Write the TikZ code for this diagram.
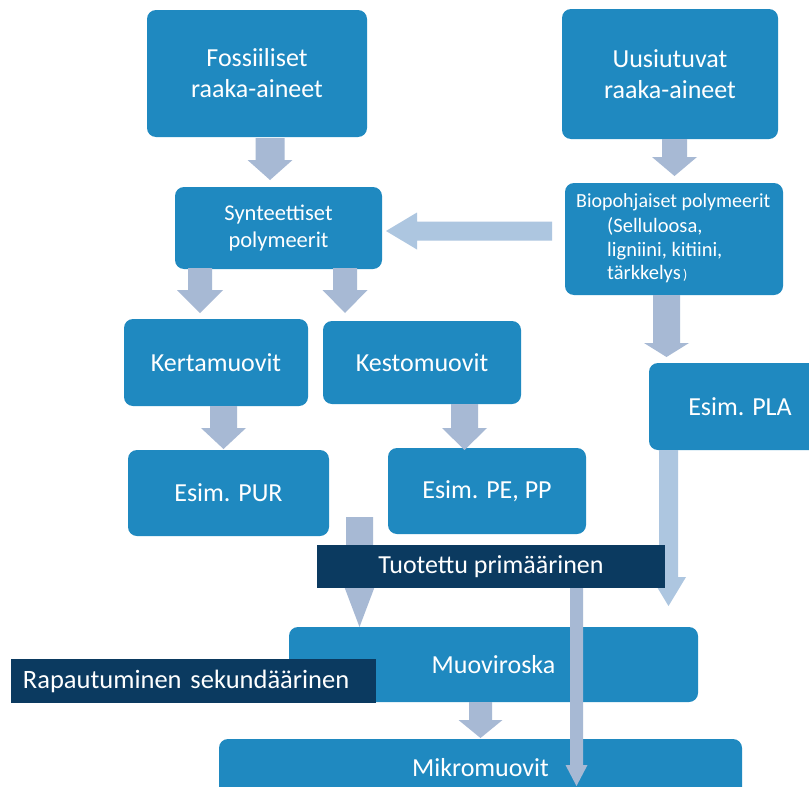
\documentclass[tikz,border=0pt]{standalone}
\usepackage{fontspec}
\setmainfont{Carlito}
\usetikzlibrary{calc}
\definecolor{boxblue}{HTML}{1F89C0}
\definecolor{arrowc}{HTML}{A7B9D4}
\definecolor{arrowl}{HTML}{ADC6E0}
\definecolor{navy}{HTML}{0B3A60}
\tikzset{
  bbox/.style={fill=boxblue, rounded corners=9pt, text=white, align=center, inner sep=0pt,
    font=\fontsize{26}{31}\selectfont},
  nbox/.style={fill=navy, text=white, inner sep=0pt, font=\fontsize{26}{31}\selectfont},
  btext/.style={text=white, inner sep=0pt},
}
% #1 colour, #2 start, #3 end (tip), #4 shaft half-width, #5 head half-width, #6 head length
\newcommand\blockarrow[6][arrowc]{%
  \coordinate (ba-h) at ($(#3)!#6!(#2)$);
  \fill[#1] ($(#2)!#4!90:(#3)$) -- ($(ba-h)!#4!90:(#3)$) -- ($(ba-h)!#5!90:(#3)$) -- (#3)
    -- ($(ba-h)!#5!-90:(#3)$) -- ($(ba-h)!#4!-90:(#3)$) -- ($(#2)!#4!-90:(#3)$) -- cycle;}
\begin{document}
\begin{tikzpicture}[x=1pt,y=-1pt]
\useasboundingbox (0,0) rectangle (809,787);
\fill[white] (0,0) rectangle (809,787);

% boxes
\node[bbox, minimum width=220pt, minimum height=127pt] (fos) at (257,73.5) {Fossiiliset\\raaka-aineet};
\node[bbox, minimum width=216pt, minimum height=130pt] (uus) at (670,74) {Uusiutuvat\\raaka-aineet};
\node[bbox, minimum width=207pt, minimum height=82pt, font=\fontsize{22.5}{27}\selectfont] (syn) at (278.5,228) {Synteettiset\\polymeerit};
\node[bbox, minimum width=218pt, minimum height=112pt] (bio) at (674,239) {};
\node[btext, anchor=base west, font=\fontsize{20}{23}\selectfont] (biot) at (576,207) {Biopohjaiset polymeerit};
\node[btext, anchor=north west, align=left, font=\fontsize{20.5}{23.5}\selectfont] (biol) at (607,217.5)
  {(Selluloosa,\\ligniini, kitiini,\\tärkkelys{\fontsize{14}{14}\selectfont\,)}};
\node[bbox, minimum width=184pt, minimum height=87pt] (ker) at (216,362.5) {Kertamuovit};
\node[bbox, minimum width=198pt, minimum height=83pt] (kes) at (422,362.5) {Kestomuovit};
\node[bbox, minimum width=201pt, minimum height=86pt] (pur) at (228.5,493) {Esim. PUR};
\node[bbox, minimum width=198pt, minimum height=86pt] (pe) at (487,491) {Esim. PE, PP};
\node[bbox, minimum width=182pt, minimum height=87pt] (pla) at (740,406.5) {Esim. PLA};
\node[bbox, minimum width=409pt, minimum height=75pt] (mro) at (493.5,664.5) {Muoviroska};
\node[bbox, minimum width=523pt, minimum height=58pt] (mik) at (480.5,768) {Mikromuovit};

% arrow end points
\coordinate (a1s) at (270,138);   \coordinate (a1e) at (270,180);
\coordinate (a2s) at (674.5,139); \coordinate (a2e) at (674.5,176);
\coordinate (a3s) at (552,231);   \coordinate (a3e) at (386,231);
\coordinate (a4s) at (200,268);   \coordinate (a4e) at (200,313);
\coordinate (a5s) at (345,268);   \coordinate (a5e) at (345,313);
\coordinate (a6s) at (666.5,295); \coordinate (a6e) at (666.5,357);
\coordinate (a7s) at (223.5,406); \coordinate (a7e) at (223.5,449);
\coordinate (a8s) at (464.5,404); \coordinate (a8e) at (464.5,450);
\coordinate (a9s) at (359.5,517); \coordinate (a9e) at (359.5,627);
\coordinate (a10s) at (668.5,450); \coordinate (a10e) at (668.5,606);
\coordinate (a12s) at (480.5,702); \coordinate (a12e) at (480.5,738);

\blockarrow{a1s}{a1e}{14.5pt}{22.5pt}{20pt}
\blockarrow{a2s}{a2e}{12.5pt}{22.5pt}{19pt}
\blockarrow[arrowl]{a3s}{a3e}{9.5pt}{18.5pt}{31pt}
\blockarrow{a4s}{a4e}{12pt}{23pt}{23pt}
\blockarrow{a5s}{a5e}{12pt}{22.5pt}{23pt}
\blockarrow{a6s}{a6e}{13.5pt}{22.5pt}{14pt}
\blockarrow{a7s}{a7e}{13.5pt}{22.5pt}{21pt}
\blockarrow{a8s}{a8e}{13.5pt}{22.5pt}{22pt}
\blockarrow{a9s}{a9e}{13.5pt}{17pt}{45pt}
\blockarrow[arrowl]{a10s}{a10e}{9.5pt}{17.5pt}{29pt}
\blockarrow{a12s}{a12e}{11.5pt}{22pt}{18pt}

% dark labels
\node[nbox, minimum width=348pt, minimum height=43pt] (tuo) at (491,566.5) {Tuotettu primäärinen};
\node[nbox, minimum height=44pt, text width=341pt, inner xsep=12pt, align=left, font=\fontsize{26.5}{31}\selectfont] (rap) at (193.5,681) {Rapautuminen sekundäärinen};

% thin arrow on top
\coordinate (a11e) at (576.5,786);
\blockarrow{tuo.south -| a11e}{a11e}{6.5pt}{11pt}{21pt}
\end{tikzpicture}
\end{document}
